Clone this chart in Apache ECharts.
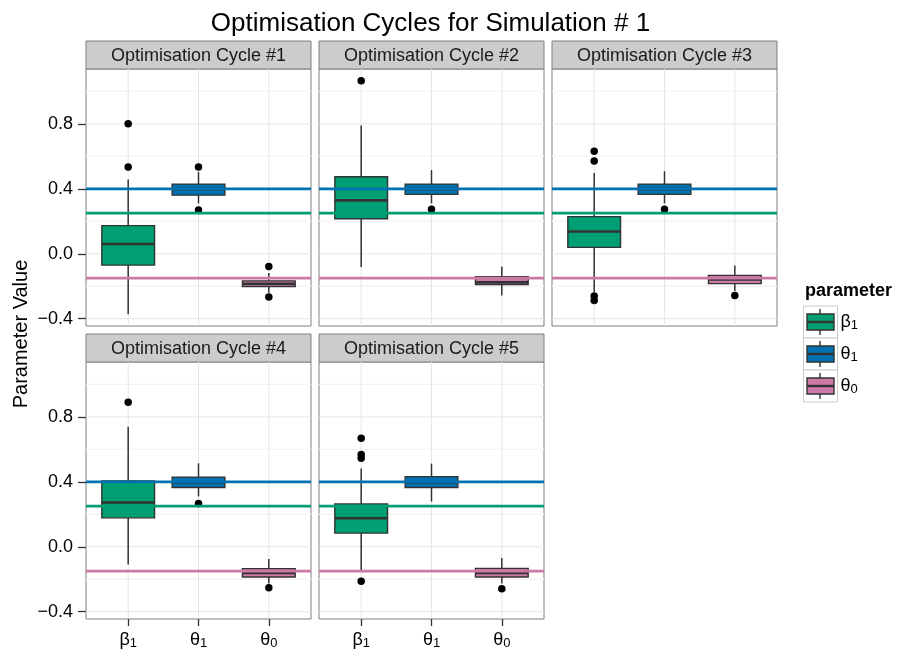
<!DOCTYPE html>
<html><head><meta charset="utf-8">
<script src="https://cdn.jsdelivr.net/npm/echarts@6/dist/echarts.min.js"></script>
<style>html,body{margin:0;padding:0;background:#fff}#c{width:898px;height:656px}</style>
</head><body><div id="c"></div>
<script>
const chartTitle = 'Optimisation Cycles for Simulation # 1';
const yAxisTitle = 'Parameter Value';
const legendTitle = 'parameter';
const cycleNames = ['Optimisation Cycle #1','Optimisation Cycle #2','Optimisation Cycle #3','Optimisation Cycle #4','Optimisation Cycle #5'];
const paramSymbols = ['β','θ','θ'];
const paramSubscripts = ['1','1','0'];
const paramColors = ['#009E73','#0072B2','#CC79A7'];
const paramPositions = [1,2,3];
const trueValues = [0.25, 0.4, -0.15];
const yTicks = [-0.4, 0, 0.4, 0.8];
const yMinorTicks = [-0.2, 0.2, 0.6, 1.0];

// [lower whisker, Q1, median, Q3, upper whisker] per cycle
const beta1Stats = [
  [-0.373, -0.070, 0.060, 0.173, 0.457],
  [-0.081, 0.216, 0.329, 0.474, 0.790],
  [-0.235, 0.039, 0.137, 0.229, 0.498],
  [-0.110, 0.178, 0.273, 0.406, 0.739],
  [-0.145, 0.084, 0.176, 0.264, 0.482]
];
const theta1Stats = [
  [0.310, 0.361, 0.398, 0.429, 0.504],
  [0.310, 0.366, 0.398, 0.429, 0.515],
  [0.310, 0.366, 0.398, 0.429, 0.508],
  [0.310, 0.365, 0.396, 0.429, 0.514],
  [0.278, 0.365, 0.396, 0.432, 0.512]
];
const theta0Stats = [
  [-0.240, -0.202, -0.185, -0.167, -0.118],
  [-0.257, -0.190, -0.176, -0.141, -0.078],
  [-0.230, -0.184, -0.159, -0.133, -0.073],
  [-0.227, -0.186, -0.162, -0.135, -0.076],
  [-0.227, -0.186, -0.162, -0.133, -0.069]
];
const beta1Outliers = [[0.800, 0.535], [1.066], [0.631, 0.572, -0.260, -0.288], [0.890], [0.669, 0.569, 0.545, -0.212]];
const theta1Outliers = [[0.535, 0.270], [0.274], [0.274], [0.267], []];
const theta0Outliers = [[-0.078, -0.267], [], [-0.257], [-0.253], [-0.259]];

const statsByParam = [beta1Stats, theta1Stats, theta0Stats];
const outliersByParam = [beta1Outliers, theta1Outliers, theta0Outliers];

// layout
const FONT = "'Liberation Sans', Arial, Helvetica, sans-serif";
const panelPos = [[86, 69], [319, 69], [552, 69], [86, 362], [319, 362]];
const panelW = 225, panelH = 257, stripH = 28;
const Y_MIN = -0.445, Y_MAX = 1.138, X_MIN = 0.4, X_MAX = 3.6;
const bottomRow = [false, false, false, true, true];
const leftCol = [true, false, false, true, false];
const DARK = '#333333';

function fmtY(v) { return (v < 0 ? '\u2212' : '') + Math.abs(v).toFixed(1); }
function paramLabel(p) { return '{b|' + paramSymbols[p] + '}{s|' + paramSubscripts[p] + '}'; }
const labelRich = {
  b: { fontSize: 18, color: '#000', fontFamily: FONT, lineHeight: 20 },
  s: { fontSize: 13, color: '#000', fontFamily: FONT, lineHeight: 11, verticalAlign: 'bottom' }
};

function renderGridLine(params, api) {
  const cs = params.coordSys;
  const kind = api.value(0), v = api.value(1), minor = api.value(2);
  const style = { stroke: minor ? '#f3f3f3' : '#e5e5e5', lineWidth: minor ? 1.4 : 1 };
  if (kind === 0) {
    const y = api.coord([2, v])[1];
    return { type: 'line', shape: { x1: cs.x, y1: y, x2: cs.x + cs.width, y2: y }, style };
  }
  const x = api.coord([v, 0])[0];
  return { type: 'line', shape: { x1: x, y1: cs.y, x2: x, y2: cs.y + cs.height }, style };
}
function renderBox(params, api) {
  const x = api.value(0);
  const lo = api.value(1), q1 = api.value(2), med = api.value(3), q3 = api.value(4), hi = api.value(5);
  const color = paramColors[api.value(6)];
  const half = 0.375;
  const pLo = api.coord([x, lo]), pHi = api.coord([x, hi]);
  const tl = api.coord([x - half, q3]), br = api.coord([x + half, q1]);
  const mL = api.coord([x - half, med]), mR = api.coord([x + half, med]);
  const ws = { stroke: DARK, lineWidth: 1.5 };
  return { type: 'group', children: [
    { type: 'line', shape: { x1: pLo[0], y1: pLo[1], x2: pLo[0], y2: br[1] }, style: ws },
    { type: 'line', shape: { x1: pHi[0], y1: pHi[1], x2: pHi[0], y2: tl[1] }, style: ws },
    { type: 'rect', shape: { x: tl[0], y: tl[1], width: br[0] - tl[0], height: br[1] - tl[1] }, style: { fill: color, stroke: DARK, lineWidth: 1.4 } },
    { type: 'line', shape: { x1: mL[0], y1: mL[1], x2: mR[0], y2: mR[1] }, style: { stroke: DARK, lineWidth: 2.6 } }
  ] };
}
function renderRef(params, api) {
  const cs = params.coordSys;
  const v = api.value(0), p = api.value(1);
  const y = api.coord([2, v])[1];
  return { type: 'line', shape: { x1: cs.x, y1: y, x2: cs.x + cs.width, y2: y }, style: { stroke: paramColors[p], lineWidth: 2.8 } };
}

const grids = [], xAxes = [], yAxes = [], series = [], graphics = [];
cycleNames.forEach((name, i) => {
  const [L, T] = panelPos[i];
  grids.push({ left: L, top: T, width: panelW, height: panelH, show: true, borderColor: '#7f7f7f', borderWidth: 1, backgroundColor: '#ffffff', containLabel: false, outerBoundsMode: 'none' });
  xAxes.push({
    type: 'value', gridIndex: i, min: X_MIN, max: X_MAX, position: 'bottom',
    axisLine: { show: false, onZero: false }, splitLine: { show: false },
    axisTick: { show: bottomRow[i], customValues: paramPositions, length: 7, lineStyle: { color: DARK, width: 1.3 } },
    axisLabel: { show: bottomRow[i], customValues: paramPositions, margin: 11,
      formatter: v => paramLabel(paramPositions.indexOf(Math.round(v))), rich: labelRich }
  });
  yAxes.push({
    type: 'value', gridIndex: i, min: Y_MIN, max: Y_MAX, position: 'left',
    axisLine: { show: false, onZero: false }, splitLine: { show: false },
    axisTick: { show: leftCol[i], customValues: yTicks, length: 8, lineStyle: { color: DARK, width: 1.3 } },
    axisLabel: { show: leftCol[i], customValues: yTicks, margin: 13, formatter: fmtY, fontSize: 18, color: '#000', fontFamily: FONT }
  });
  const gl = [];
  yMinorTicks.forEach(v => gl.push([0, v, 1]));
  yTicks.forEach(v => gl.push([0, v, 0]));
  paramPositions.forEach(v => gl.push([1, v, 0]));
  series.push({ type: 'custom', name: 'grid', xAxisIndex: i, yAxisIndex: i, z: 1, silent: true, renderItem: renderGridLine, data: gl, animation: false });
  series.push({ type: 'custom', name: 'boxes', xAxisIndex: i, yAxisIndex: i, z: 2, silent: true, renderItem: renderBox,
    data: paramPositions.map((pos, p) => [pos].concat(statsByParam[p][i]).concat([p])), animation: false });
  const pts = [];
  paramPositions.forEach((pos, p) => outliersByParam[p][i].forEach(v => pts.push([pos, v])));
  series.push({ type: 'scatter', name: 'outliers', xAxisIndex: i, yAxisIndex: i, z: 3, silent: true, symbol: 'circle', symbolSize: 7.5,
    itemStyle: { color: '#000', opacity: 1 }, data: pts, animation: false });
  series.push({ type: 'custom', name: 'true values', xAxisIndex: i, yAxisIndex: i, z: 4, silent: true, renderItem: renderRef,
    data: trueValues.map((v, p) => [v, p]), animation: false });
  // strip
  graphics.push({ type: 'rect', shape: { x: L, y: T - stripH, width: panelW, height: stripH }, style: { fill: '#cccccc', stroke: '#7f7f7f', lineWidth: 1 } });
  graphics.push({ type: 'text', x: L + panelW / 2, y: T - stripH / 2 + 1, style: { text: name, fontSize: 18, fontFamily: FONT, fill: '#1a1a1a', align: 'center', verticalAlign: 'middle' } });
});

// y axis title
graphics.push({ type: 'text', x: 21, y: 334, rotation: Math.PI / 2, style: { text: yAxisTitle, fontSize: 20, fontFamily: FONT, fill: '#000', align: 'center', verticalAlign: 'middle' } });
// legend
graphics.push({ type: 'text', x: 805, y: 291, style: { text: legendTitle, fontSize: 18, fontWeight: 'bold', fontFamily: FONT, fill: '#000', align: 'left', verticalAlign: 'middle' } });
paramColors.forEach((c, p) => {
  const ky = 306 + p * 32, kx = 803.5;
  graphics.push({ type: 'rect', shape: { x: kx, y: ky, width: 34, height: 32 }, style: { fill: '#ffffff', stroke: '#cccccc', lineWidth: 1 } });
  graphics.push({ type: 'line', shape: { x1: kx + 16.5, y1: ky + 3, x2: kx + 16.5, y2: ky + 29 }, style: { stroke: DARK, lineWidth: 1.4 } });
  graphics.push({ type: 'rect', shape: { x: kx + 3.5, y: ky + 8, width: 27, height: 16 }, style: { fill: c, stroke: DARK, lineWidth: 1.4 } });
  graphics.push({ type: 'line', shape: { x1: kx + 3.5, y1: ky + 16, x2: kx + 30.5, y2: ky + 16 }, style: { stroke: DARK, lineWidth: 2.4 } });
  graphics.push({ type: 'text', x: 840.5, y: ky + 16, style: { text: paramLabel(p), rich: labelRich, align: 'left', verticalAlign: 'middle' } });
});

const chart = echarts.init(document.getElementById('c'), null, { renderer: 'canvas' });
chart.setOption({
  backgroundColor: '#ffffff',
  animation: false,
  title: { text: chartTitle, left: 430.5, textAlign: 'center', top: 11, padding: 0, textStyle: { fontSize: 26, fontWeight: 'normal', color: '#000', fontFamily: FONT } },
  grid: grids, xAxis: xAxes, yAxis: yAxes, series: series,
  graphic: { elements: graphics }
});
</script></body></html>
